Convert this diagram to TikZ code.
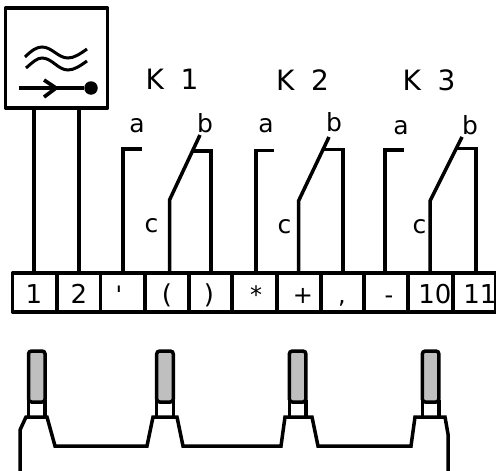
\documentclass[tikz,border=0pt]{standalone}
\usepackage{fontspec}
\setmainfont{DejaVu Sans}
\newfontfamily\plainfont{DejaVu Sans}
\tikzset{
  wire/.style={line width=3.5pt,line join=miter},
  thick wire/.style={line width=4.5pt},
  tbox/.style={draw,line width=3.5pt,line join=round,outer sep=0pt,minimum height=39pt,minimum width=#1,inner sep=0pt,anchor=north west},
  big/.style={inner sep=0pt,anchor=base,font=\fontsize{28}{28}\selectfont},
  small/.style={inner sep=0pt,anchor=base,font=\fontsize{25}{25}\selectfont},
  num/.style={inner sep=0pt,anchor=base,font=\fontsize{26}{26}\selectfont},
  pun/.style={inner sep=0pt,anchor=base,font=\fontsize{24}{24}\plainfont},
  plugcap/.style={draw,line width=3.5pt,fill=black!25,rounded corners=3pt},
  neck/.style={draw,line width=3.5pt,fill=white,outer sep=0pt},
}
\begin{document}
\begin{tikzpicture}[x=1pt,y=-1pt]
\useasboundingbox (0,0) rectangle (496,471);
% sensor box
\node[draw,line width=3.5pt,line join=round,outer sep=0pt,minimum width=102pt,minimum height=100pt,inner sep=0pt,anchor=north west] (sensor) at (5.5,8) {};
\draw[line width=3pt] (25,57) .. controls (32,50) and (37,47) .. (42,47) .. controls (52,47) and (58,58) .. (68,58) .. controls (74,58) and (80,54) .. (87,49);
\draw[line width=3pt] (26,68) .. controls (33,62) and (37,58) .. (42,58) .. controls (52,58) and (58,70) .. (68,70) .. controls (74,70) and (80,66) .. (87,61);
\coordinate (arrowstart) at (19,88);
\node[circle,fill=black,minimum size=13.5pt,inner sep=0pt] (dot) at (91,88) {};
\draw[line width=3.7pt] (arrowstart) -- (dot);
\draw[line width=3.7pt] (44,80) -- (56,88) -- (44,97);
% terminals
\foreach \n/\xa/\w in {1/12.5/44.5,2/57/43.5,3/100.5/44.5,4/145/44,5/189/43,6/232/45,7/277/44,8/321/43,9/364/44,10/408/45,11/453/43}{
  \node[tbox=\w pt] (t\n) at (\xa,273) {};
}
\foreach \t/\x/\st/\s in {1/34/num/1,2/79/num/2,3/119/pun/',4/167/num/(,5/209/num/),6/256/pun/*,7/303/pun/+,8/342/pun/{,},9/389/pun/-,10/435/num/10,11/480/num/11}{
  \node[\st] (l\t) at (\x,303) {\s};
}
% wires to the sensor
\coordinate (w1) at (34,273);
\coordinate (w2) at (79,273);
\draw[thick wire] (sensor.south -| w1) -- (t1.north -| w1);
\draw[thick wire] (sensor.south -| w2) -- (t2.north -| w2);
% relay contacts
\foreach \k/\ax/\ay/\aend/\cx/\cy/\tx/\ty/\bx/\by/\bend/\t/\u/\v in {
  1/123/149/142/169.5/200/200/135/193/151/211/3/4/5,
  2/256/150.5/274/298.5/201/329/137/324/149.5/343/6/7/8,
  3/385/150/404/430/201/462/137/457/148.5/476/9/10/11}{
  \coordinate (a\k) at (\aend,\ay);
  \coordinate (c\k) at (\tx,\ty);
  \coordinate (b\k) at (\bx,\by);
  \draw[wire] (a\k) -- (\ax,\ay) -- (\ax,273);
  \draw[wire] (c\k) -- (\cx,\cy) -- (\cx,273);
  \draw[wire] (b\k) -- (\bend,\by) -- (\bend,273);
}
% labels
\node[big] (k1) at (172,89) {K\hspace{0.6em}1};
\node[big] (k2) at (302.5,90) {K\hspace{0.6em}2};
\node[big] (k3) at (429,90) {K\hspace{0.6em}3};
\foreach \i/\tx/\x/\y in {ka/a/137/132,kb/b/205/132,kc/c/151.5/232,ma/a/266/132,mb/b/334/131,mc/c/284.5/233,na/a/401/134,nb/b/470/134,nc/c/419.5/233}{
  \node[small] (\i) at (\x,\y) {\tx};
}
% plugs
\foreach \p/\x in {1/28.5,2/156.7,3/289.3,4/422.3}{
  \node[neck,minimum width=16.6pt,minimum height=16pt,inner sep=0pt,anchor=north west] (n\p) at (\x,401.5) {};
  \path[plugcap] (\x,402) -- (\x,351) -- (\x+16.6,351) -- (\x+16.6,402) -- cycle;
}
% base line
\draw[wire,line join=miter] (20,471) -- (20,430) -- (26,417) -- (47,417) -- (55,446) -- (147,446) -- (153,417) -- (177,417) -- (183,446) -- (281,446) -- (285,417) -- (312,417) -- (318,446) -- (411,446) -- (415,417) -- (445,417) -- (448,434) -- (448,471);
\end{tikzpicture}
\end{document}
